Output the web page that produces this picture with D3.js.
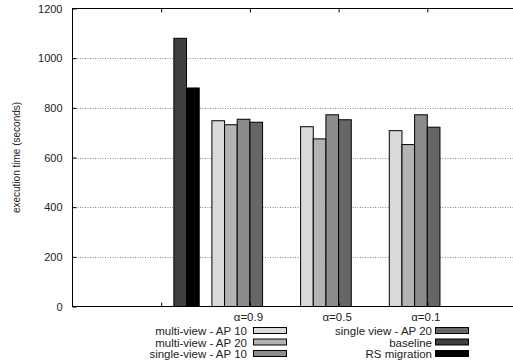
<!DOCTYPE html>
<html>
<head>
<meta charset="utf-8">
<script src="https://cdn.jsdelivr.net/npm/d3@7"></script>
<style>
  html, body { margin: 0; padding: 0; background: #fff; }
  svg { display: block; }
</style>
</head>
<body>
<svg id="chart" width="513" height="364"></svg>
<script>
// ── Data ────────────────────────────────────────────────────────────────
const categories = ['', 'α=0.9', 'α=0.5', 'α=0.1'];
const seriesNames = [
  'multi-view - AP 10',
  'multi-view - AP 20',
  'single-view - AP 10',
  'single view - AP 20',
  'baseline',
  'RS migration'
];
const multiAp10  = [null, 748, 724, 708];
const multiAp20  = [null, 732, 675, 652];
const singleAp10 = [null, 754, 772, 772];
const singleAp20 = [null, 742, 752, 722];
const baseline   = [1080, null, null, null];
const rsMigration = [880, null, null, null];
const yTicks = [0, 200, 400, 600, 800, 1000, 1200];

const seriesValues = [multiAp10, multiAp20, singleAp10, singleAp20, baseline, rsMigration];
const FILLS = ['#d9d9d9', '#b3b3b3', '#8c8c8c', '#666666', '#404040', '#000000'];

// ── Layout ──────────────────────────────────────────────────────────────
const PLOT = { left: 72.5, right: 516, top: 8.5, bottom: 306.5 };
const FONT = 'Liberation Sans, Arial, Helvetica, sans-serif';

const svg = d3.select('#chart');

const x = d3.scaleLinear().domain([-1, 4]).range([PLOT.left, PLOT.right]);
const y = d3.scaleLinear().domain([0, 1200]).range([PLOT.bottom, PLOT.top]);
const bw = (x(1) - x(0)) / 7;

// Grid (dotted)
svg.append('g')
  .selectAll('line')
  .data(yTicks.filter(t => t > 0 && t < 1200))
  .join('line')
  .attr('x1', PLOT.left).attr('x2', PLOT.right)
  .attr('y1', d => Math.round(y(d)) + 0.5).attr('y2', d => Math.round(y(d)) + 0.5)
  .attr('stroke', '#888')
  .attr('stroke-width', 1)
  .attr('stroke-dasharray', '1,1.5');

// Bars
const bars = [];
seriesValues.forEach((vals, s) => {
  vals.forEach((v, i) => {
    if (v != null) bars.push({ s, i, v });
  });
});

svg.append('g')
  .selectAll('rect')
  .data(bars)
  .join('rect')
  .attr('x', d => x(d.i) + (d.s - 3) * bw)
  .attr('y', d => y(d.v))
  .attr('width', bw)
  .attr('height', d => y(0) - y(d.v))
  .attr('fill', d => FILLS[d.s])
  .attr('stroke', '#000')
  .attr('stroke-width', 1);

// Axes: inward ticks
const yAxis = d3.axisLeft(y).tickValues(yTicks).tickSize(-4).tickPadding(10)
  .tickFormat(d3.format('d'));
const yg = svg.append('g').attr('transform', `translate(${PLOT.left},0)`).call(yAxis);
yg.select('.domain').remove();
yg.selectAll('line').attr('stroke', '#000');
yg.selectAll('text')
  .attr('font-family', FONT).attr('font-size', '11px').attr('fill', '#222');

const xBottom = d3.axisBottom(x).tickValues(d3.range(categories.length))
  .tickSize(-4).tickPadding(6).tickFormat(i => categories[i]);
const xb = svg.append('g').attr('transform', `translate(0,${PLOT.bottom})`).call(xBottom);
xb.select('.domain').remove();
xb.selectAll('line').attr('stroke', '#000');
xb.selectAll('text')
  .attr('font-family', FONT).attr('font-size', '11.5px').attr('fill', '#222')
  .attr('dx', '-2');

const xTop = d3.axisTop(x).tickValues(d3.range(categories.length))
  .tickSize(-4).tickFormat('');
const xt = svg.append('g').attr('transform', `translate(0,${PLOT.top})`).call(xTop);
xt.select('.domain').remove();
xt.selectAll('line').attr('stroke', '#000');

// Frame
svg.append('rect')
  .attr('x', PLOT.left).attr('y', PLOT.top)
  .attr('width', PLOT.right - PLOT.left).attr('height', PLOT.bottom - PLOT.top)
  .attr('fill', 'none').attr('stroke', '#000').attr('stroke-width', 1);

// Y label
svg.append('text')
  .attr('transform', `translate(20,${(PLOT.top + PLOT.bottom) / 2}) rotate(-90)`)
  .attr('text-anchor', 'middle')
  .attr('font-family', FONT).attr('font-size', '10px').attr('fill', '#222')
  .text('execution time (seconds)');

// Legend (two columns, filled down)
const legendCols = [{ textX: 247, swX: 253 }, { textX: 432, swX: 435 }];
const legendRowY = [331, 342.5, 354];
const legend = svg.append('g')
  .selectAll('g')
  .data(seriesNames)
  .join('g')
  .attr('transform', (d, i) => `translate(0,${legendRowY[i % 3]})`);

legend.append('text')
  .attr('x', (d, i) => legendCols[Math.floor(i / 3)].textX)
  .attr('y', 4)
  .attr('text-anchor', 'end')
  .attr('font-family', FONT).attr('font-size', '11.5px').attr('fill', '#222')
  .text(d => d);

legend.append('rect')
  .attr('x', (d, i) => legendCols[Math.floor(i / 3)].swX + 0.5)
  .attr('y', -3.5)
  .attr('width', 33)
  .attr('height', 6)
  .attr('fill', (d, i) => FILLS[i])
  .attr('stroke', '#000')
  .attr('stroke-width', 1);
</script>
</body>
</html>
